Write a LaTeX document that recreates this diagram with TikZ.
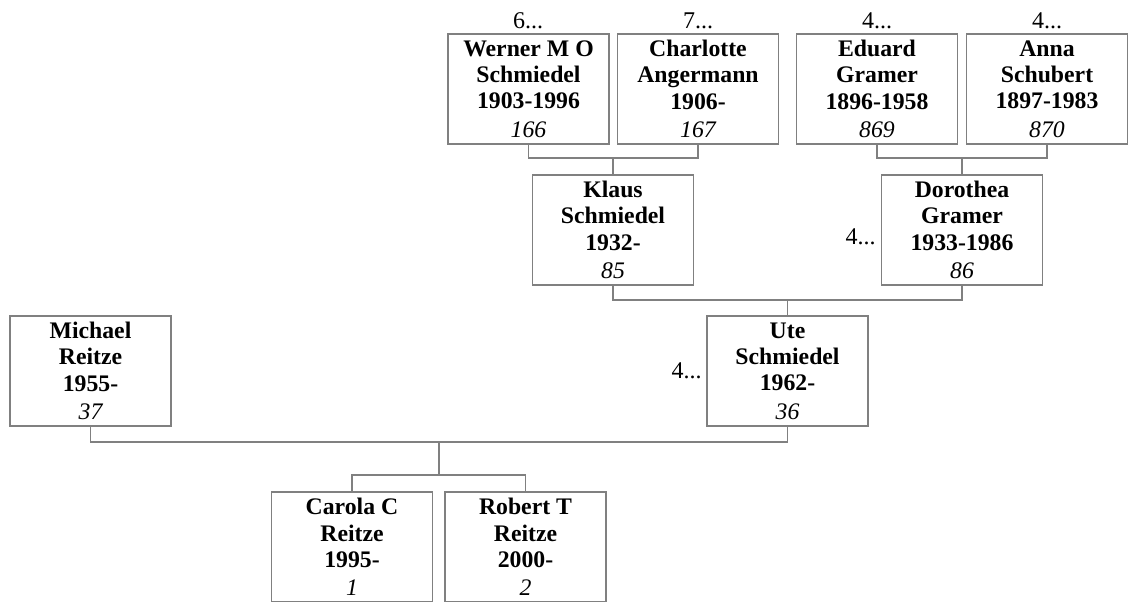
\documentclass[tikz,border=0pt]{standalone}
\usepackage{fontspec}
\setmainfont{Liberation Serif}
\begin{document}
\begin{tikzpicture}[x=0.75pt,y=-0.75pt,
  person/.style={draw=black!50,line width=0.8pt,fill=white,minimum width=120.75pt,minimum height=82.5pt,
    inner sep=0pt,align=center,font=\fontsize{17.8}{19.8}\selectfont\bfseries},
  more/.style={font=\fontsize{18}{20}\selectfont,inner sep=0pt},
  link/.style={draw=black!50,line width=0.8pt}]
\useasboundingbox[fill=white] (0,0) rectangle (1132,602);
% generation 1
\node[person] (w) at (528.5,89) {Werner M O\\Schmiedel\\1903-1996\\[1.5pt]{\mdseries\itshape 166}};
\node[person] (c) at (698,89) {Charlotte\\Angermann\\1906-\\[1.5pt]{\mdseries\itshape 167}};
\node[person] (e) at (877,89) {Eduard\\Gramer\\1896-1958\\[1.5pt]{\mdseries\itshape 869}};
\node[person] (a) at (1047,89) {Anna\\Schubert\\1897-1983\\[1.5pt]{\mdseries\itshape 870}};
\node[more] (wm) at (528,21) {6...};
\node[more] (cm) at (698,21) {7...};
\node[more] (em) at (877,21) {4...};
\node[more] (am) at (1047,21) {4...};
% generation 2
\node[person] (k) at (613,230) {Klaus\\Schmiedel\\1932-\\[1.5pt]{\mdseries\itshape 85}};
\node[person] (d) at (962,230) {Dorothea\\Gramer\\1933-1986\\[1.5pt]{\mdseries\itshape 86}};
\node[more,anchor=east] (dm) at (876,237) {4...};
% generation 3
\node[person] (u) at (787.5,371) {Ute\\Schmiedel\\1962-\\[1.5pt]{\mdseries\itshape 36}};
\node[person] (m) at (90.5,371) {Michael\\Reitze\\1955-\\[1.5pt]{\mdseries\itshape 37}};
\node[more,anchor=east] (um) at (702,371) {4...};
% generation 4
\node[person] (ca) at (352,547) {Carola C\\Reitze\\1995-\\[1.5pt]{\mdseries\itshape 1}};
\node[person] (ro) at (525.5,547) {Robert T\\Reitze\\2000-\\[1.5pt]{\mdseries\itshape 2}};
% connectors
\draw[link] (w.south) -- (w.south |- 0,158) -| (c.south);
\draw[link] (k.north) -- (k.north |- 0,158);
\draw[link] (e.south) -- (e.south |- 0,158) -| (a.south);
\draw[link] (d.north) -- (d.north |- 0,158);
\draw[link] (k.south) -- (k.south |- 0,300) -| (d.south);
\draw[link] (u.north) -- (u.north |- 0,300);
\draw[link] (m.south) -- (m.south |- 0,442) -| (u.south);
\coordinate (fam) at (439,442);
\draw[link] (fam) -- (439,475);
\draw[link] (ca.north) -- (ca.north |- 0,475) -| (ro.north);
\end{tikzpicture}
\end{document}
